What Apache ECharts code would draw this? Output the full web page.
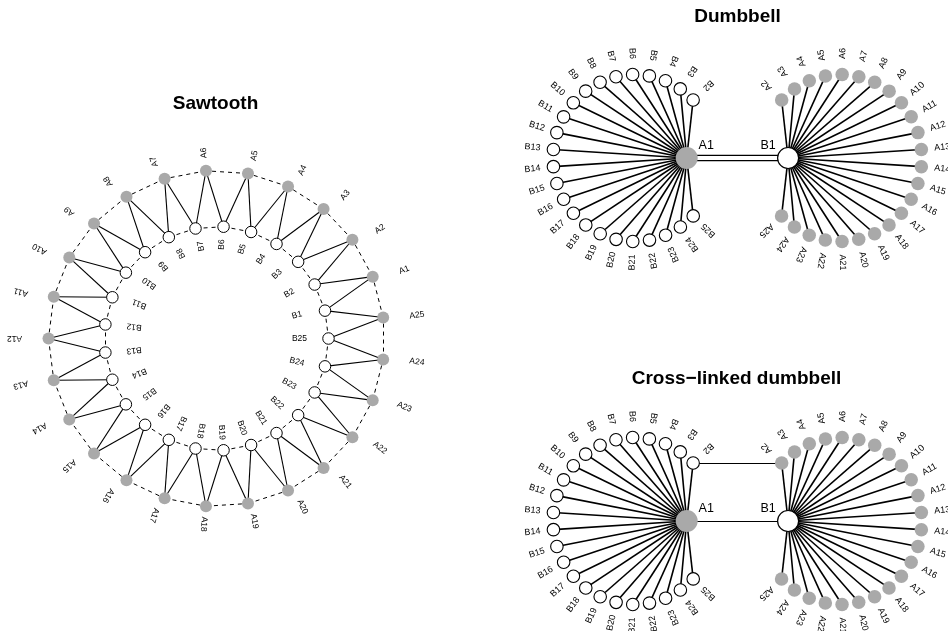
<!DOCTYPE html>
<html>
<head>
<meta charset="utf-8">
<title>Network motifs</title>
<script src="https://cdn.jsdelivr.net/npm/echarts@6/dist/echarts.min.js"></script>
<style>
  html, body { margin: 0; padding: 0; background: #ffffff; }
  #chart { width: 948px; height: 631px; }
</style>
</head>
<body>
<div id="chart"></div>
<script>
// ---------------- Sawtooth network ----------------
const sawOuter = ['A1','A2','A3','A4','A5','A6','A7','A8','A9','A10','A11','A12','A13',
                  'A14','A15','A16','A17','A18','A19','A20','A21','A22','A23','A24','A25'];
const sawInner = ['B1','B2','B3','B4','B5','B6','B7','B8','B9','B10','B11','B12','B13',
                  'B14','B15','B16','B17','B18','B19','B20','B21','B22','B23','B24','B25'];
// each inner node is tied to two neighbouring outer nodes
const sawTeeth = 'B1-A1 B1-A25 B2-A2 B2-A1 B3-A3 B3-A2 B4-A4 B4-A3 B5-A5 B5-A4 B6-A6 B6-A5 ' +
                 'B7-A7 B7-A6 B8-A8 B8-A7 B9-A9 B9-A8 B10-A10 B10-A9 B11-A11 B11-A10 B12-A12 B12-A11 ' +
                 'B13-A13 B13-A12 B14-A14 B14-A13 B15-A15 B15-A14 B16-A16 B16-A15 B17-A17 B17-A16 ' +
                 'B18-A18 B18-A17 B19-A19 B19-A18 B20-A20 B20-A19 B21-A21 B21-A20 B22-A22 B22-A21 ' +
                 'B23-A23 B23-A22 B24-A24 B24-A23 B25-A25 B25-A24';
const sawRingA = 'A1-A2 A2-A3 A3-A4 A4-A5 A5-A6 A6-A7 A7-A8 A8-A9 A9-A10 A10-A11 A11-A12 A12-A13 ' +
                 'A13-A14 A14-A15 A15-A16 A16-A17 A17-A18 A18-A19 A19-A20 A20-A21 A21-A22 A22-A23 ' +
                 'A23-A24 A24-A25 A25-A1';
const sawRingB = 'B1-B2 B2-B3 B3-B4 B4-B5 B5-B6 B6-B7 B7-B8 B8-B9 B9-B10 B10-B11 B11-B12 B12-B13 ' +
                 'B13-B14 B14-B15 B15-B16 B16-B17 B17-B18 B18-B19 B19-B20 B20-B21 B21-B22 B22-B23 ' +
                 'B23-B24 B24-B25 B25-B1';

// ---------------- Dumbbell networks ----------------
const bellLeftHub = 'A1';
const bellRightHub = 'B1';
const bellLeftLeaves = ['B2','B3','B4','B5','B6','B7','B8','B9','B10','B11','B12','B13',
                        'B14','B15','B16','B17','B18','B19','B20','B21','B22','B23','B24','B25'];
const bellRightLeaves = ['A2','A3','A4','A5','A6','A7','A8','A9','A10','A11','A12','A13',
                         'A14','A15','A16','A17','A18','A19','A20','A21','A22','A23','A24','A25'];
const bellSpokes = 'A1-B2 A1-B3 A1-B4 A1-B5 A1-B6 A1-B7 A1-B8 A1-B9 A1-B10 A1-B11 A1-B12 A1-B13 ' +
                   'A1-B14 A1-B15 A1-B16 A1-B17 A1-B18 A1-B19 A1-B20 A1-B21 A1-B22 A1-B23 A1-B24 A1-B25 ' +
                   'B1-A2 B1-A3 B1-A4 B1-A5 B1-A6 B1-A7 B1-A8 B1-A9 B1-A10 B1-A11 B1-A12 B1-A13 ' +
                   'B1-A14 B1-A15 B1-A16 B1-A17 B1-A18 B1-A19 B1-A20 B1-A21 B1-A22 B1-A23 B1-A24 B1-A25';
const bellBridge = 'A1-B1 A1-B1';      // doubled link between the hubs
const crossBridge = 'A1-B1 B2-A2';     // single hub link plus the cross link

const titles = ['Sawtooth', 'Dumbbell', 'Cross\u2212linked dumbbell'];

// ---------------- drawing helpers ----------------
const FONT = '"Liberation Sans", Arial, Helvetica, sans-serif';
const GREY = '#a9a9a9';
const DEG = Math.PI / 180;
const pairs = s => s.split(' ').map(p => p.split('-'));

// panel frames (pixel rectangles and the pixel size of one layout unit)
const frames = [
  { left: 0,   top: 0,   width: 470, height: 631, cx: 216.5, cy: 338.5, unit: 168 },
  { left: 470, top: 0,   width: 478, height: 300, cx: 737.4, cy: 158,   unit: 82.5 },
  { left: 470, top: 300, width: 478, height: 331, cx: 737.4, cy: 521,   unit: 82.5 }
];

const grids = frames.map(f => ({ left: f.left, top: f.top, width: f.width, height: f.height }));
const xAxes = frames.map((f, i) => ({
  type: 'value', gridIndex: i, show: false,
  min: (f.left - f.cx) / f.unit, max: (f.left + f.width - f.cx) / f.unit
}));
const yAxes = frames.map((f, i) => ({
  type: 'value', gridIndex: i, show: false,
  min: (f.cy - f.top - f.height) / f.unit, max: (f.cy - f.top) / f.unit
}));

// ---- sawtooth layout: two concentric rings ----
const sawInnerR = 112 / 168;
const sawPos = {};
const sawAngle = {};
sawOuter.forEach((n, i) => {
  const a = 21.6 + 14.4 * i;
  sawAngle[n] = a;
  sawPos[n] = [Math.cos(a * DEG), Math.sin(a * DEG)];
});
sawInner.forEach((n, i) => {
  const a = 14.4 + 14.4 * i;
  sawAngle[n] = a;
  sawPos[n] = [sawInnerR * Math.cos(a * DEG), sawInnerR * Math.sin(a * DEG)];
});

const sawNodes = sawOuter.map(n => ({
  name: n, value: sawPos[n], symbolSize: 12,
  itemStyle: { color: GREY, borderWidth: 0 }
})).concat(sawInner.map(n => ({
  name: n, value: sawPos[n], symbolSize: 11.5,
  itemStyle: { color: '#ffffff', borderColor: '#000000', borderWidth: 1 }
})));
const sawLinks = pairs(sawTeeth).map(([s, t]) => ({ source: s, target: t, lineStyle: { width: 1.1 } }))
  .concat(pairs(sawRingA).concat(pairs(sawRingB)).map(([s, t]) => ({
    source: s, target: t, lineStyle: { width: 1, type: [4, 4] }
  })));

const sawLabels = sawOuter.map(n => {
  const a = sawAngle[n] * DEG;
  return { x: sawPos[n][0], y: sawPos[n][1], text: n, rot: a, size: 8.5,
           dx: 34 * Math.cos(a), dy: -18 * Math.sin(a) };
}).concat(sawInner.map(n => {
  const a = sawAngle[n] * DEG;
  return { x: sawPos[n][0], y: sawPos[n][1], text: n, rot: a, size: 8.5,
           dx: -29 * Math.cos(a), dy: 18 * Math.sin(a) };
}));

// ---- dumbbell layout: two fans around the hubs ----
const hubOffset = 50.7 / 82.5;
const fanCentre = 102.9 / 82.5;
const fanRx = 81.5 / 82.5, fanRy = 83.5 / 82.5;
const bellPos = {};
const bellAngle = {};
bellPos[bellLeftHub] = [-hubOffset, 0];
bellPos[bellRightHub] = [hubOffset, 0];
bellLeftLeaves.forEach((n, i) => {
  const a = 44 + 11.83 * i;
  bellAngle[n] = a;
  bellPos[n] = [-fanCentre + fanRx * Math.cos(a * DEG), fanRy * Math.sin(a * DEG)];
});
bellRightLeaves.forEach((n, i) => {
  const a = 136 - 11.83 * i;
  bellAngle[n] = a;
  bellPos[n] = [fanCentre + fanRx * Math.cos(a * DEG), fanRy * Math.sin(a * DEG)];
});

function bellNodes() {
  return [
    { name: bellLeftHub, value: bellPos[bellLeftHub], symbolSize: 22, itemStyle: { color: GREY, borderWidth: 0 } },
    { name: bellRightHub, value: bellPos[bellRightHub], symbolSize: 21,
      itemStyle: { color: '#ffffff', borderColor: '#000000', borderWidth: 1.2 } }
  ].concat(bellLeftLeaves.map(n => ({
    name: n, value: bellPos[n], symbolSize: 12.5,
    itemStyle: { color: '#ffffff', borderColor: '#000000', borderWidth: 1.1 }
  }))).concat(bellRightLeaves.map(n => ({
    name: n, value: bellPos[n], symbolSize: 13.5, itemStyle: { color: GREY, borderWidth: 0 }
  })));
}
const spokeLinks = () => pairs(bellSpokes).map(([s, t]) => ({ source: s, target: t, lineStyle: { width: 1.6 } }));

function bellLabels() {
  const out = [];
  bellLeftLeaves.forEach(n => {
    const a = bellAngle[n] * DEG;
    out.push({ x: bellPos[n][0], y: bellPos[n][1], text: n, rot: a + Math.PI, size: 9,
               dx: 21 * Math.cos(a), dy: -21 * Math.sin(a) });
  });
  bellRightLeaves.forEach(n => {
    const a = bellAngle[n] * DEG;
    out.push({ x: bellPos[n][0], y: bellPos[n][1], text: n, rot: a, size: 9,
               dx: 21 * Math.cos(a), dy: -21 * Math.sin(a) });
  });
  out.push({ x: bellPos[bellLeftHub][0], y: 0, text: bellLeftHub, rot: 0, size: 12.5, dx: 19.5, dy: -12 });
  out.push({ x: bellPos[bellRightHub][0], y: 0, text: bellRightHub, rot: 0, size: 12.5, dx: -20, dy: -12 });
  return out;
}

function graphSeries(gi, nodes, links) {
  return {
    type: 'graph', coordinateSystem: 'cartesian2d', xAxisIndex: gi, yAxisIndex: gi,
    layout: 'none', silent: true, animation: false, roam: false, z: 3,
    symbol: 'circle', data: nodes, links: links,
    label: { show: false },
    lineStyle: { color: '#000000', opacity: 1, width: 1, curveness: 0 },
    emphasis: { disabled: true }
  };
}

function labelSeries(gi, items) {
  return {
    type: 'custom', coordinateSystem: 'cartesian2d', xAxisIndex: gi, yAxisIndex: gi,
    silent: true, animation: false, z: 5, clip: false,
    data: items.map(d => [d.x, d.y]), encode: { x: 0, y: 1 },
    renderItem: (params, api) => {
      const d = items[params.dataIndex];
      const p = api.coord([api.value(0), api.value(1)]);
      return {
        type: 'text', x: p[0] + d.dx, y: p[1] + d.dy, rotation: d.rot,
        style: {
          text: d.text, fill: '#000000', fontSize: d.size, fontFamily: FONT,
          align: 'center', verticalAlign: 'middle',
          textAlign: 'center', textVerticalAlign: 'middle'
        }
      };
    }
  };
}

// doubled hub link drawn as parallel strokes
function bridgeSeries(gi, links) {
  const list = pairs(links);
  return {
    type: 'custom', coordinateSystem: 'cartesian2d', xAxisIndex: gi, yAxisIndex: gi,
    silent: true, animation: false, z: 2, clip: false,
    data: list.map(([s, t]) => [bellPos[s][0], bellPos[s][1], bellPos[t][0], bellPos[t][1]]),
    encode: { x: [0, 2], y: [1, 3] },
    renderItem: (params, api) => {
      const p1 = api.coord([api.value(0), api.value(1)]);
      const p2 = api.coord([api.value(2), api.value(3)]);
      const off = (params.dataIndex - (list.length - 1) / 2) * 5.4;
      return {
        type: 'line',
        shape: { x1: p1[0], y1: p1[1] + off, x2: p2[0], y2: p2[1] + off },
        style: { stroke: '#000000', lineWidth: 1.2 }
      };
    }
  };
}

const titleCentres = [[215.5, 104], [737.5, 17], [736.5, 379]];

const option = {
  backgroundColor: '#ffffff',
  animation: false,
  grid: grids,
  xAxis: xAxes,
  yAxis: yAxes,
  graphic: titles.map((t, i) => ({
    type: 'text', x: titleCentres[i][0], y: titleCentres[i][1], silent: true,
    style: {
      text: t, fill: '#000000', fontSize: 19, fontWeight: 'bold', fontFamily: FONT,
      align: 'center', verticalAlign: 'middle', textAlign: 'center', textVerticalAlign: 'middle'
    }
  })),
  series: [
    graphSeries(0, sawNodes, sawLinks),
    labelSeries(0, sawLabels),
    bridgeSeries(1, bellBridge),
    graphSeries(1, bellNodes(), spokeLinks()),
    labelSeries(1, bellLabels()),
    graphSeries(2, bellNodes(), spokeLinks().concat(pairs(crossBridge).map(([s, t]) => ({
      source: s, target: t, lineStyle: { width: 1.2 }
    })))),
    labelSeries(2, bellLabels())
  ]
};

const chart = echarts.init(document.getElementById('chart'), null, { renderer: 'canvas' });
chart.setOption(option);
</script>
</body>
</html>
